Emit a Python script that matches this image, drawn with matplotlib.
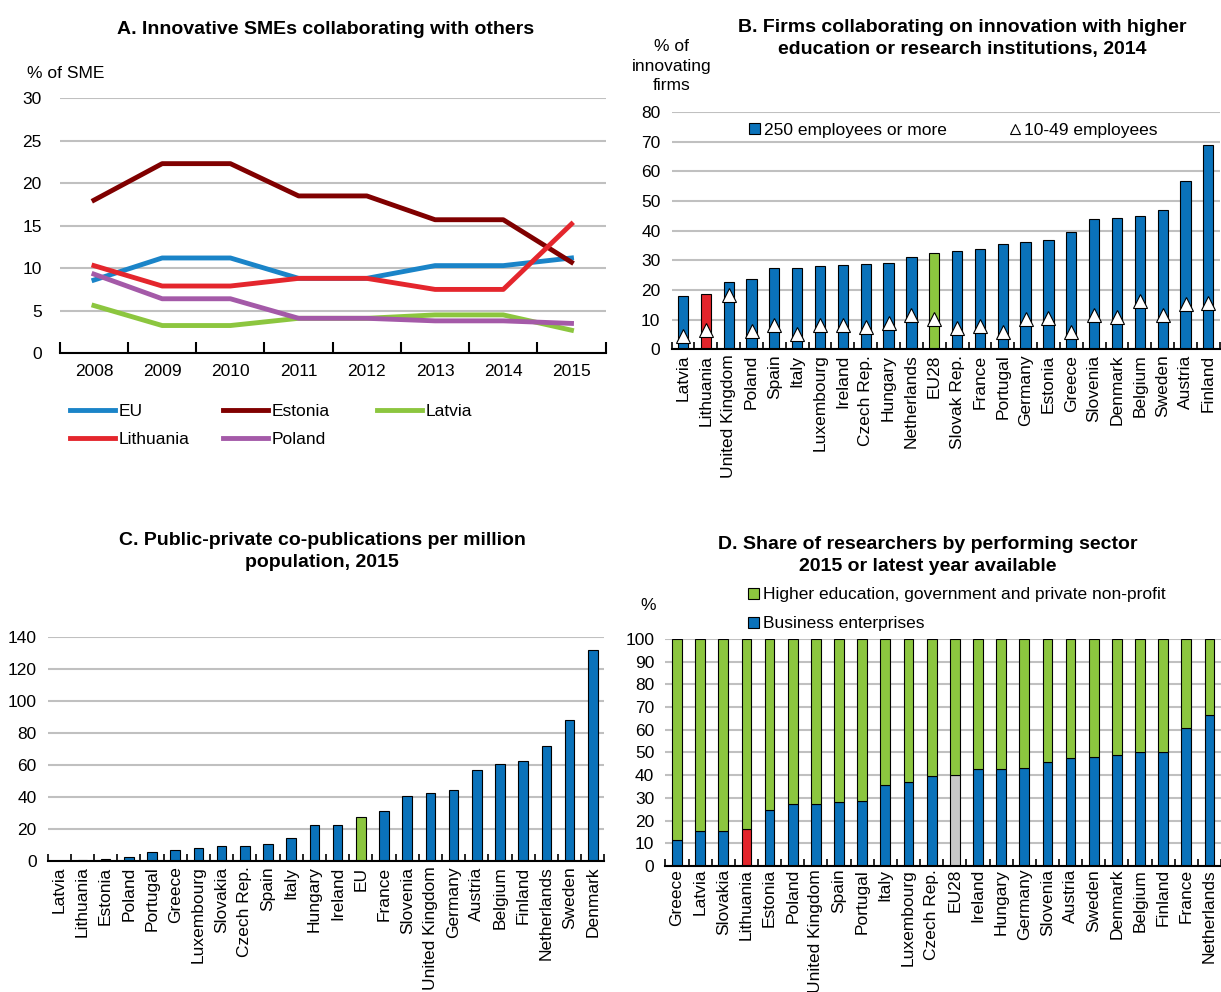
import numpy as np
import matplotlib
matplotlib.use('Agg')
import matplotlib.pyplot as plt
from matplotlib.lines import Line2D
from matplotlib.patches import Patch

plt.rcParams['font.family'] = ['Liberation Sans', 'DejaVu Sans']
FS, TFS = 12.5, 14

BLUE = '#0a72ba'
GREEN = '#8cc63f'
RED = '#e3242b'
GREY = '#c8c8c8'
GRID = '#c0c0c0'

# Panel A data
years = ['2008', '2009', '2010', '2011', '2012', '2013', '2014', '2015']
eu = [8.6, 11.2, 11.2, 8.8, 8.8, 10.3, 10.3, 11.2]
estonia = [18.0, 22.3, 22.3, 18.5, 18.5, 15.7, 15.7, 10.7]
latvia = [5.6, 3.25, 3.25, 4.1, 4.1, 4.5, 4.5, 2.7]
lithuania = [10.3, 7.9, 7.9, 8.8, 8.8, 7.5, 7.5, 15.2]
poland = [9.3, 6.4, 6.4, 4.1, 4.1, 3.8, 3.8, 3.5]

# Panel B data
b_countries = ['Latvia', 'Lithuania', 'United Kingdom', 'Poland', 'Spain', 'Italy',
               'Luxembourg', 'Ireland', 'Czech Rep.', 'Hungary', 'Netherlands', 'EU28',
               'Slovak Rep.', 'France', 'Portugal', 'Germany', 'Estonia', 'Greece',
               'Slovenia', 'Denmark', 'Belgium', 'Sweden', 'Austria', 'Finland']
b_large = [18.0, 18.6, 22.6, 23.7, 27.3, 27.3, 27.9, 28.5, 28.8, 29.2, 31.0, 32.6,
           33.2, 33.9, 35.5, 36.3, 36.8, 39.6, 43.8, 44.1, 44.9, 47.0, 56.9, 68.8]
b_small = [4.5, 6.6, 18.4, 6.2, 8.3, 5.0, 8.3, 8.3, 7.5, 8.9, 11.7, 10.1,
           7.2, 7.9, 5.7, 10.3, 10.5, 5.7, 11.4, 11.0, 16.2, 11.4, 15.4, 15.6]

# Panel C data
c_countries = ['Latvia', 'Lithuania', 'Estonia', 'Poland', 'Portugal', 'Greece',
               'Luxembourg', 'Slovakia', 'Czech Rep.', 'Spain', 'Italy', 'Hungary',
               'Ireland', 'EU', 'France', 'Slovenia', 'United Kingdom', 'Germany',
               'Austria', 'Belgium', 'Finland', 'Netherlands', 'Sweden', 'Denmark']
c_values = [0.3, 0.5, 1.0, 2.8, 5.8, 7.1, 8.1, 9.2, 9.4, 10.6, 14.4, 22.3,
            22.7, 27.7, 31.5, 40.4, 42.5, 44.6, 56.9, 60.4, 62.3, 71.9, 88.3, 131.7]

# Panel D data
d_countries = ['Greece', 'Latvia', 'Slovakia', 'Lithuania', 'Estonia', 'Poland',
               'United Kingdom', 'Spain', 'Portugal', 'Italy', 'Luxembourg', 'Czech Rep.',
               'EU28', 'Ireland', 'Hungary', 'Germany', 'Slovenia', 'Austria', 'Sweden',
               'Denmark', 'Belgium', 'Finland', 'France', 'Netherlands']
d_business = [11.6, 15.4, 15.4, 16.2, 24.7, 27.1, 27.4, 28.1, 28.8, 35.7, 37.2, 39.7,
              39.9, 42.8, 42.8, 43.2, 45.7, 47.4, 48.1, 48.8, 50.1, 50.1, 60.6, 66.6]
d_other = [100 - v for v in d_business]


def style_axis(ax, pad=8):
    ax.spines['top'].set_visible(False)
    ax.spines['right'].set_visible(False)
    ax.spines['left'].set_visible(False)
    ax.spines['bottom'].set_linewidth(1.5)
    ax.yaxis.grid(True, color=GRID, linewidth=1.5)
    ax.set_axisbelow(True)
    ax.tick_params(axis='y', length=0, labelsize=FS, pad=pad)


def bar_xaxis(ax, labels, pad=4):
    n = len(labels)
    x = np.arange(n)
    ax.set_xlim(-0.5, n - 0.5)
    ax.set_xticks(x)
    ax.set_xticklabels(labels, rotation=90, fontsize=FS)
    ax.tick_params(axis='x', which='major', length=0, pad=pad)
    ax.set_xticks(np.arange(n + 1) - 0.5, minor=True)
    ax.tick_params(axis='x', which='minor', direction='in', length=5, width=1.2)


def fy(py):
    # figure fraction from a pixel row counted from the top
    return 1 - py / 992


fig = plt.figure(figsize=(12.21, 9.92), dpi=100)

# ---------- Panel A ----------
axA = fig.add_axes([0.049, 0.644, 0.447, 0.257])
style_axis(axA, pad=13)
xa = np.arange(len(years))
lw = 3.5
la = axA.plot(xa, eu, color='#1a84c8', lw=lw)[0]
le = axA.plot(xa, estonia, color='#800000', lw=lw)[0]
lv = axA.plot(xa, latvia, color=GREEN, lw=lw)[0]
ll = axA.plot(xa, lithuania, color='#e4262d', lw=lw)[0]
lp = axA.plot(xa, poland, color='#a45aa8', lw=lw)[0]
axA.set_ylim(0, 30)
axA.set_yticks([0, 5, 10, 15, 20, 25, 30])
axA.set_xlim(-0.5, len(years) - 0.5)
axA.set_xticks(xa)
axA.set_xticklabels(years, fontsize=FS)
axA.tick_params(axis='x', which='major', length=0, pad=8)
axA.set_xticks(np.arange(len(years) + 1) - 0.5, minor=True)
axA.tick_params(axis='x', which='minor', direction='in', length=8, width=1.5)
fig.text(326 / 1221, fy(30), 'A. Innovative SMEs collaborating with others', fontsize=TFS,
         fontweight='bold', ha='center', va='center')
fig.text(27 / 1221, fy(73), '% of SME', fontsize=FS, ha='left', va='center')
# legend in three fixed columns
cols = [([la, ll], ['EU', 'Lithuania']), ([le, lp], ['Estonia', 'Poland']), ([lv], ['Latvia'])]
for i, ((hs, ls), px) in enumerate(zip(cols, [70, 223, 377])):
    leg = axA.legend(hs, ls, loc='upper left', bbox_to_anchor=((px - 60) / 545, -0.2),
                     frameon=False, fontsize=FS, handlelength=2.6, handletextpad=0.2,
                     labelspacing=0.75, borderpad=0, borderaxespad=0)
    if i < len(cols) - 1:
        axA.add_artist(leg)

# ---------- Panel B ----------
axB = fig.add_axes([0.550, 0.648, 0.449, 0.239])
style_axis(axB)
xb = np.arange(len(b_countries))
b_colors = [RED if c == 'Lithuania' else GREEN if c == 'EU28' else BLUE for c in b_countries]
axB.bar(xb, b_large, width=0.45, color=b_colors, edgecolor='black', linewidth=0.8)
axB.plot(xb, b_small, linestyle='none', marker='^', markersize=10,
         markerfacecolor='white', markeredgecolor='black', markeredgewidth=0.8)
axB.set_ylim(0, 80)
axB.set_yticks(np.arange(0, 81, 10))
bar_xaxis(axB, b_countries)
fig.text(962 / 1221, fy(38.5),
         'B. Firms collaborating on innovation with higher\neducation or research institutions, 2014',
         fontsize=TFS, fontweight='bold', ha='center', va='center', linespacing=1.35)
fig.text(672 / 1221, fy(66), '% of\ninnovating\nfirms', fontsize=FS, ha='center', va='center',
         linespacing=1.35)
legB = [Patch(facecolor=BLUE, edgecolor='black', linewidth=0.8),
        Line2D([], [], linestyle='none', marker='^', markersize=7,
               markerfacecolor='white', markeredgecolor='black', markeredgewidth=0.8)]
axB.legend(legB, ['250 employees or more', '10-49 employees'], ncol=2,
           loc='center left', bbox_to_anchor=(0.142, 0.924), frameon=False, fontsize=FS,
           handlelength=0.6, handleheight=0.6, handletextpad=0.25, columnspacing=3.6,
           borderpad=0, borderaxespad=0)

# ---------- Panel C ----------
axC = fig.add_axes([0.039, 0.132, 0.456, 0.226])
style_axis(axC)
xc = np.arange(len(c_countries))
c_colors = [GREEN if c == 'EU' else BLUE for c in c_countries]
axC.bar(xc, c_values, width=0.42, color=c_colors, edgecolor='black', linewidth=0.8)
axC.set_ylim(0, 140)
axC.set_yticks(np.arange(0, 141, 20))
bar_xaxis(axC, c_countries)
fig.text(322 / 1221, fy(551.5), 'C. Public-private co-publications per million\npopulation, 2015',
         fontsize=TFS, fontweight='bold', ha='center', va='center', linespacing=1.35)

# ---------- Panel D ----------
axD = fig.add_axes([0.545, 0.127, 0.455, 0.229])
style_axis(axD)
xd = np.arange(len(d_countries))
d_colors = [RED if c == 'Lithuania' else GREY if c == 'EU28' else BLUE for c in d_countries]
axD.bar(xd, d_business, width=0.42, color=d_colors, edgecolor='black', linewidth=0.8)
axD.bar(xd, d_other, bottom=d_business, width=0.42, color=GREEN, edgecolor='black',
        linewidth=0.8)
axD.set_ylim(0, 100)
axD.set_yticks(np.arange(0, 101, 10))
bar_xaxis(axD, d_countries, pad=2)
fig.text(928 / 1221, fy(555.5), 'D. Share of researchers by performing sector\n2015 or latest year available',
         fontsize=TFS, fontweight='bold', ha='center', va='center', linespacing=1.35)
fig.text(648 / 1221, fy(605), '%', fontsize=FS, ha='center', va='center')
legD = [Patch(facecolor=GREEN, edgecolor='black', linewidth=0.8),
        Patch(facecolor=BLUE, edgecolor='black', linewidth=0.8)]
axD.legend(legD, ['Higher education, government and private non-profit',
                  'Business enterprises'], loc='lower left', bbox_to_anchor=(0.149, 1.033),
           frameon=False, fontsize=FS, handlelength=0.6, handleheight=0.6,
           handletextpad=0.25, labelspacing=0.8, borderpad=0, borderaxespad=0)

fig.savefig('out.png', dpi=100)
